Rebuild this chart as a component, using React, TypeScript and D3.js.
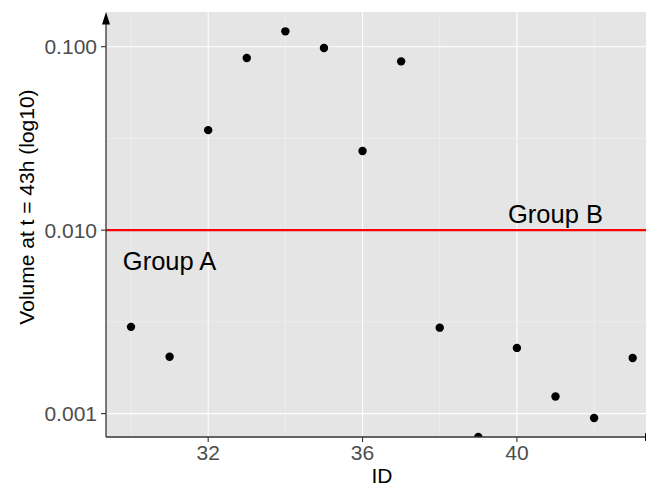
import React from "react";
import * as d3 from "d3";

// chart values
const ids = [30, 31, 32, 33, 34, 35, 36, 37, 38, 39, 40, 41, 42, 43];
const volumes = [
  0.00297, 0.00204, 0.0351, 0.0868, 0.1213, 0.0984, 0.027, 0.0832, 0.00294,
  0.000745, 0.00228, 0.00124, 0.000946, 0.00201,
];
const xMajorTicks = [32, 36, 40];
const xMinorTicks = [30, 34, 38, 42];
const yMajorTicks = [0.001, 0.01, 0.1];
const yTickLabels = ["0.001", "0.010", "0.100"];
const yMinorTicks = [Math.pow(10, -2.5), Math.pow(10, -1.5)];
const threshold = 0.01;
const groupLabels = ["Group A", "Group B"];
const groupX = [31, 41];
const groupY = [0.0068, 0.0122];

const W = 646;
const H = 486;
const panel = { left: 106, right: 646, top: 12, bottom: 437 };

export default function App() {
  const x = d3
    .scaleLinear()
    .domain([29.352, 43.345])
    .range([panel.left, panel.right]);
  const y = d3
    .scaleLog()
    .domain([Math.pow(10, -3.1277), Math.pow(10, -0.8107)])
    .range([panel.bottom, panel.top]);

  const axisColor = "#333333";
  const tickColor = "#4D4D4D";
  const font = "'Liberation Sans', Arial, sans-serif";

  return (
    <svg
      width={W}
      height={H}
      style={{ position: "absolute", left: 0, top: 0, background: "white" }}
      fontFamily={font}
    >
      <defs>
        <clipPath id="panel-clip">
          <rect
            x={panel.left}
            y={panel.top}
            width={panel.right - panel.left}
            height={panel.bottom - panel.top}
          />
        </clipPath>
      </defs>

      {/* panel background */}
      <rect
        x={panel.left}
        y={panel.top}
        width={panel.right - panel.left}
        height={panel.bottom - panel.top}
        fill="#E5E5E5"
      />

      {/* minor grid */}
      {xMinorTicks.map((t) => (
        <line
          key={"xm" + t}
          x1={x(t)}
          x2={x(t)}
          y1={panel.top}
          y2={panel.bottom}
          stroke="#F2F2F2"
          strokeWidth={0.6}
        />
      ))}
      {yMinorTicks.map((t, i) => (
        <line
          key={"ym" + i}
          x1={panel.left}
          x2={panel.right}
          y1={y(t)}
          y2={y(t)}
          stroke="#F2F2F2"
          strokeWidth={0.6}
        />
      ))}

      {/* major grid */}
      {xMajorTicks.map((t) => (
        <line
          key={"xg" + t}
          x1={x(t)}
          x2={x(t)}
          y1={panel.top}
          y2={panel.bottom}
          stroke="white"
          strokeWidth={1.1}
        />
      ))}
      {yMajorTicks.map((t) => (
        <line
          key={"yg" + t}
          x1={panel.left}
          x2={panel.right}
          y1={y(t)}
          y2={y(t)}
          stroke="white"
          strokeWidth={1.1}
        />
      ))}

      {/* threshold line */}
      <line
        x1={panel.left}
        x2={panel.right}
        y1={y(threshold)}
        y2={y(threshold)}
        stroke="#FF0000"
        strokeWidth={2.2}
      />

      {/* points */}
      <g clipPath="url(#panel-clip)">
        {ids.map((id, i) => (
          <circle key={id} cx={x(id)} cy={y(volumes[i])} r={4.2} fill="black" />
        ))}
      </g>

      {/* group labels */}
      {groupLabels.map((lab, i) => (
        <text
          key={lab}
          x={x(groupX[i])}
          y={y(groupY[i])}
          dy="0.35em"
          textAnchor="middle"
          fontSize={25.5}
          fill="black"
        >
          {lab}
        </text>
      ))}

      {/* axes lines with arrows */}
      <line
        x1={panel.left}
        x2={panel.left}
        y1={panel.bottom}
        y2={panel.top + 10}
        stroke={axisColor}
        strokeWidth={1.3}
      />
      <polygon
        points={`${panel.left},${panel.top} ${panel.left - 4},${panel.top + 12.5} ${panel.left + 4},${panel.top + 12.5}`}
        fill="black"
      />
      <line
        x1={panel.left}
        x2={panel.right}
        y1={panel.bottom}
        y2={panel.bottom}
        stroke={axisColor}
        strokeWidth={1.3}
      />
      <polygon
        points={`${panel.right - 1},${panel.bottom - 4} ${panel.right - 1},${panel.bottom + 4} ${panel.right + 11.5},${panel.bottom}`}
        fill="black"
      />

      {/* y ticks */}
      {yMajorTicks.map((t, i) => (
        <g key={"yt" + t}>
          <line
            x1={panel.left - 5}
            x2={panel.left}
            y1={y(t)}
            y2={y(t)}
            stroke={axisColor}
            strokeWidth={1.1}
          />
          <text
            x={panel.left - 9}
            y={y(t)}
            dy="0.36em"
            textAnchor="end"
            fontSize={21}
            fill={tickColor}
          >
            {yTickLabels[i]}
          </text>
        </g>
      ))}

      {/* x ticks */}
      {xMajorTicks.map((t) => (
        <g key={"xt" + t}>
          <line
            x1={x(t)}
            x2={x(t)}
            y1={panel.bottom}
            y2={panel.bottom + 5}
            stroke={axisColor}
            strokeWidth={1.1}
          />
          <text
            x={x(t)}
            y={460}
            textAnchor="middle"
            fontSize={21}
            fill={tickColor}
          >
            {t}
          </text>
        </g>
      ))}

      {/* axis titles */}
      <text x={382} y={483} textAnchor="middle" fontSize={21} fill="black">
        ID
      </text>
      <text
        transform={`translate(34,207) rotate(-90)`}
        textAnchor="middle"
        fontSize={21}
        fill="black"
      >
        Volume at t = 43h (log10)
      </text>
    </svg>
  );
}
